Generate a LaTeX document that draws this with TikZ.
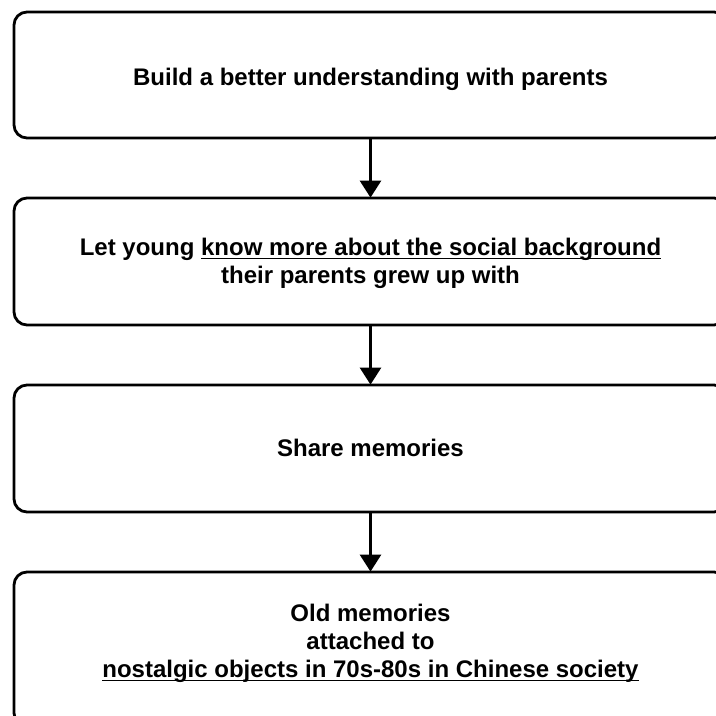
\documentclass[tikz,border=0pt]{standalone}
\usepackage{fontspec}
\setmainfont{Liberation Sans}
\usetikzlibrary{arrows.meta}
\newcommand\myul[1]{\setbox0\hbox{#1}\rlap{\rule[-3.5pt]{\wd0}{1.4pt}}\box0}
\tikzset{
  flowbox/.style={draw=black, line width=2.8pt, rounded corners=13pt, fill=white,
    minimum width=713pt, inner sep=0pt},
  flowtext/.style={inner sep=0pt, align=center,
    font=\fontsize{24}{28}\selectfont\bfseries},
  flowarrow/.style={draw=black, line width=2.8pt,
    -{Triangle[width=21pt,length=17pt]}, shorten >=-1pt}
}
\begin{document}
\begin{tikzpicture}[x=1pt,y=-1pt]
\useasboundingbox (0,0) rectangle (716,716);
\clip (0,0) rectangle (716,716);
\fill[white] (0,0) rectangle (716,716);
\node[flowbox, minimum height=126pt] (b1) at (370.5,75) {};
\node[flowbox, minimum height=127pt] (b2) at (370.5,261.5) {};
\node[flowbox, minimum height=127pt] (b3) at (370.5,448.5) {};
\node[flowbox, minimum height=154pt] (b4) at (370.5,649) {};
\node[flowtext, anchor=base] (t1) at (370.5,85) {Build a better understanding with parents};
\node[flowtext] (t2) at (370.5,263.8) {Let young \myul{know more about the social background}\\their parents grew up with};
\node[flowtext, anchor=base] (t3) at (370.5,456) {Share memories};
\node[flowtext] (t4) at (370.5,643.8) {Old memories\\attached to\\\myul{nostalgic objects in 70s-80s in Chinese society}};
\draw[flowarrow] (b1.south) -- (b2.north);
\draw[flowarrow] (b2.south) -- (b3.north);
\draw[flowarrow] (b3.south) -- (b4.north);
\end{tikzpicture}
\end{document}
